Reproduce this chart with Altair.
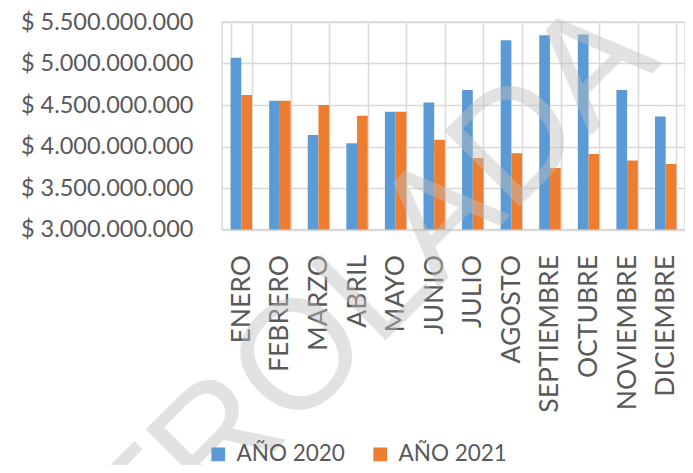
import altair as alt
import pandas as pd

MONTHS = ["ENERO", "FEBRERO", "MARZO", "ABRIL", "MAYO", "JUNIO", "JULIO",
          "AGOSTO", "SEPTIEMBRE", "OCTUBRE", "NOVIEMBRE", "DICIEMBRE"]
SERIES = ["AÑO 2020", "AÑO 2021"]
V2020 = [5.07e9, 4.55e9, 4.14e9, 4.04e9, 4.42e9, 4.53e9, 4.68e9, 5.28e9, 5.34e9, 5.35e9, 4.68e9, 4.36e9]
V2021 = [4.62e9, 4.55e9, 4.50e9, 4.37e9, 4.42e9, 4.08e9, 3.86e9, 3.92e9, 3.74e9, 3.91e9, 3.83e9, 3.79e9]
COLORS = ["#5B9BD5", "#ED7D31"]
Y_TICKS = [3.0e9, 3.5e9, 4.0e9, 4.5e9, 5.0e9, 5.5e9]
WATERMARK = "CONTROLADA"

rows = []
for m, a, b in zip(MONTHS, V2020, V2021):
    rows.append({"mes": m, "serie": SERIES[0], "valor": a})
    rows.append({"mes": m, "serie": SERIES[1], "valor": b})
df = pd.DataFrame(rows)

GRID = "#D9D9D9"
TXT = "#595959"

bars = alt.Chart(df).mark_bar(clip=True).encode(
    x=alt.X("mes:N", sort=MONTHS, title=None,
            scale=alt.Scale(paddingInner=0.445, paddingOuter=0.2225),
            axis=alt.Axis(labelAngle=-90, labelFont="Lato", labelFontSize=26.5,
                          labelColor=TXT, labelPadding=25, ticks=False, tickSize=0,
                          tickBand="extent", grid=True, gridColor=GRID, gridWidth=1.5,
                          domainColor=GRID, domainWidth=1.5, labelLimit=0)),
    xOffset=alt.XOffset("serie:N", sort=SERIES,
                        scale=alt.Scale(paddingInner=0, paddingOuter=0)),
    y=alt.Y("valor:Q", title=None,
            scale=alt.Scale(domain=[3.0e9, 5.5e9], zero=False, nice=False),
            axis=alt.Axis(values=Y_TICKS,
                          labelExpr='"$ " + replace(format(datum.value, ",.0f"), regexp(",", "g"), ".")',
                          labelFont="Lato", labelFontSize=23.5, labelColor=TXT,
                          labelPadding=29, ticks=False, tickSize=0, domain=False,
                          grid=True, gridColor=GRID, gridWidth=1.5, labelLimit=0)),
    color=alt.Color("serie:N",
                    scale=alt.Scale(domain=SERIES, range=COLORS),
                    legend=alt.Legend(title=None, orient="none", legendX=-15, legendY=421,
                                      direction="horizontal", symbolType="square",
                                      symbolSize=190, symbolStrokeWidth=0,
                                      labelFont="Lato", labelFontSize=22.5, labelColor=TXT,
                                      labelOffset=7, columnPadding=24, padding=0,
                                      labelLimit=0)),
)

wm = alt.Chart(pd.DataFrame({"t": [WATERMARK]})).mark_text(
    font="Liberation Sans", fontSize=155, angle=315, align="right",
    baseline="alphabetic", color="#BFBFBF", opacity=0.45
).encode(text="t:N", x=alt.value(441), y=alt.value(41))

chart = alt.layer(bars, wm).properties(
    width=463, height=207.5,
    autosize=alt.AutoSizeParams(type="none"),
    padding={"left": 214, "top": 14, "right": 0, "bottom": 235.5},
).configure_view(stroke=GRID, strokeWidth=1.5)

chart.save("out.html", embed_options={"renderer": "svg", "actions": False})
